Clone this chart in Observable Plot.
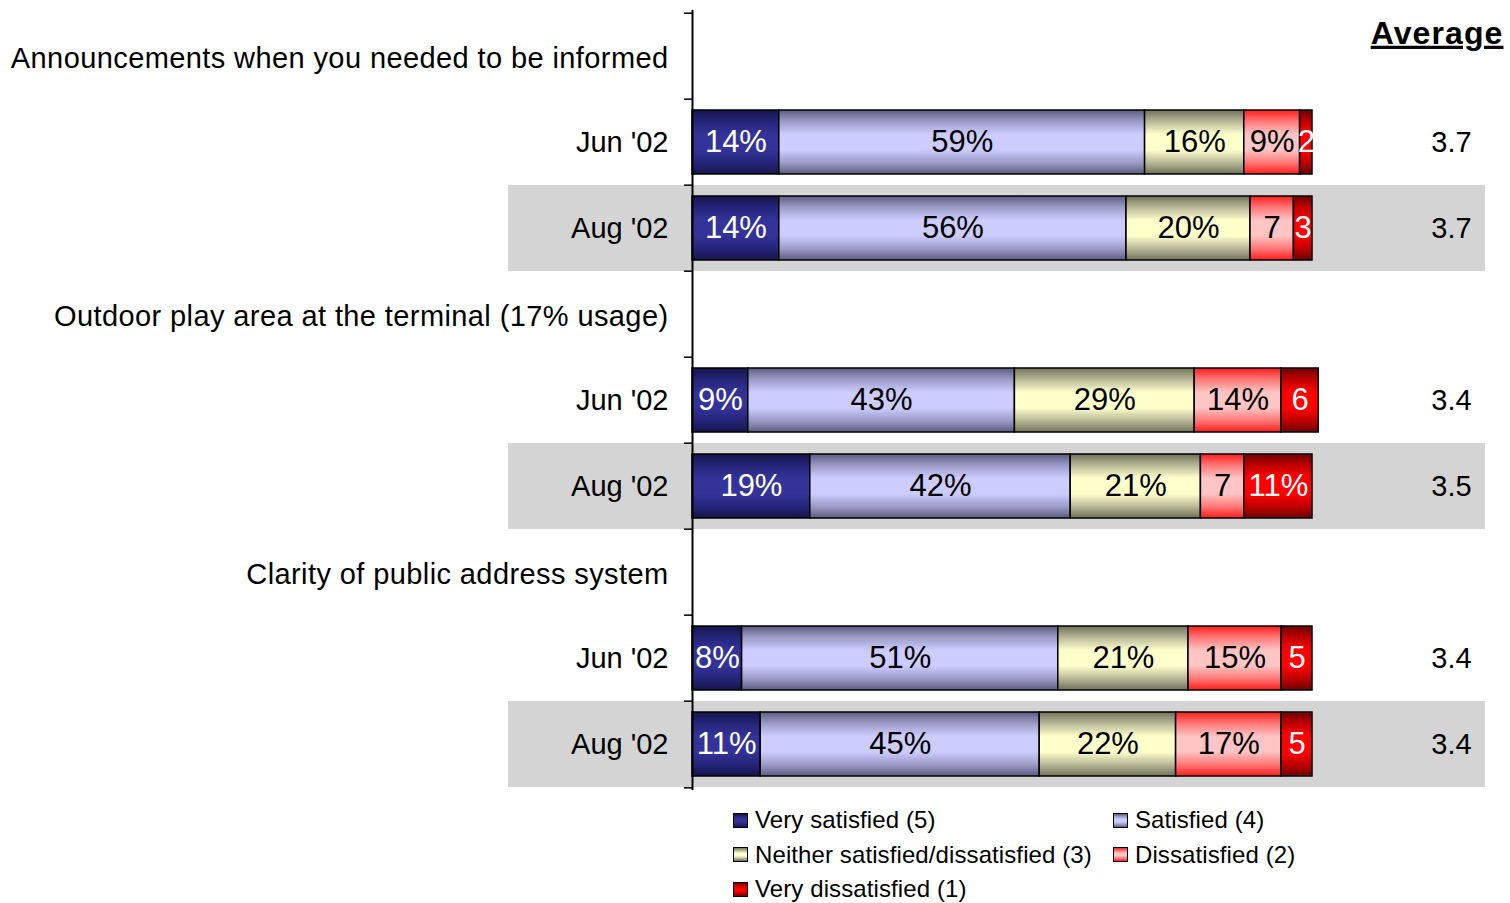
<!DOCTYPE html>
<html>
<head>
<meta charset="utf-8">
<script src="https://cdn.jsdelivr.net/npm/d3@7"></script>
<script src="https://cdn.jsdelivr.net/npm/@observablehq/plot@0.6"></script>
<style>
  html, body { margin: 0; padding: 0; background: #fff; }
  body { width: 1510px; height: 903px; overflow: hidden; font-family: Arial, "Liberation Sans", sans-serif; }
  #legend { position: relative; height: 103px; box-sizing: border-box; padding-top: 3px; padding-left: 733px;
    display: grid; grid-template-columns: 380px 330px; grid-auto-rows: 34.5px; font-size: 24px; letter-spacing: 0.1px; color: #000; }
  .item { display: flex; align-items: center; white-space: nowrap; }
  .sw { width: 13px; height: 13px; border: 1px solid #000; margin-right: 7px; flex: none; }
  .hdr-label text { letter-spacing: 0.4px; }
  .avg-title text { letter-spacing: 1.1px; text-decoration: underline; }
</style>
</head>
<body>
<div id="chart"></div>
<div id="legend"></div>
<script>
// ---- data ----
const groups = [
  "Announcements when you needed to be informed",
  "Outdoor play area at the terminal (17% usage)",
  "Clarity of public address system"
];
const periods = ["Jun '02", "Aug '02"];
const categories = [
  "Very satisfied (5)",
  "Satisfied (4)",
  "Neither satisfied/dissatisfied (3)",
  "Dissatisfied (2)",
  "Very dissatisfied (1)"
];
const announcementsJun = [14, 59, 16, 9, 2];
const announcementsAug = [14, 56, 20, 7, 3];
const outdoorJun = [9, 43, 29, 14, 6];
const outdoorAug = [19, 42, 21, 7, 11];
const clarityJun = [8, 51, 21, 15, 5];
const clarityAug = [11, 45, 22, 17, 5];
const values = [[announcementsJun, announcementsAug], [outdoorJun, outdoorAug], [clarityJun, clarityAug]];
// segment labels as printed
const labelsText = [
  [["14%", "59%", "16%", "9%", "2"], ["14%", "56%", "20%", "7", "3"]],
  [["9%", "43%", "29%", "14%", "6"], ["19%", "42%", "21%", "7", "11%"]],
  [["8%", "51%", "21%", "15%", "5"], ["11%", "45%", "22%", "17%", "5"]]
];
const averages = [["3.7", "3.7"], ["3.4", "3.5"], ["3.4", "3.4"]];
const averageTitle = "Average";

// gradient colours per category: [edge, mid, centre]
const gradColors = [
  ["#15154a", "#25257a", "#333399"],
  ["#5c5c80", "#9c9cc8", "#ccccff"],
  ["#707058", "#b8b898", "#ffffcc"],
  ["#ff1c1c", "#ff7878", "#ffc4c4"],
  ["#6e0000", "#c00000", "#ff0000"]
];
const gradId = i => `grad${i}`;

// ---- tables ----
const rows = [];
const segs = [];
groups.forEach((g, gi) => {
  rows.push({key: `g${gi}`, label: g, header: true});
  periods.forEach((p, pi) => {
    const key = `g${gi}p${pi}`;
    rows.push({key, label: p, header: false, aug: pi === 1, avg: averages[gi][pi]});
    values[gi][pi].forEach((v, ci) => {
      segs.push({key, ci, cat: categories[ci], value: v, label: labelsText[gi][pi][ci]});
    });
  });
});
const headerRows = rows.filter(r => r.header);
const barRows = rows.filter(r => !r.header);
const augRows = rows.filter(r => r.aug);
const lastRow = rows[rows.length - 1];

const W = 1510, H = 800;
const mTop = 10, mBottom = 10, mLeft = 692, mRight = 198;
const step = (H - mTop - mBottom) / rows.length;
const font = 'Arial, "Liberation Sans", sans-serif';

const plot = Plot.plot({
  width: W,
  height: H,
  marginTop: mTop,
  marginBottom: mBottom,
  marginLeft: mLeft,
  marginRight: mRight,
  style: {fontFamily: font, background: "white", overflow: "visible"},
  x: {domain: [0, 100], axis: null},
  y: {domain: rows.map(r => r.key), padding: 0, axis: null},
  color: {type: "identity"},
  marks: [
    // grey background bands behind Aug rows
    Plot.barX(augRows, {y: "key", x1: 0, x2: 100, fill: "#d4d4d4", insetLeft: -184, insetRight: -173}),
    // stacked bars
    Plot.barX(segs, Plot.stackX({
      x: "value", y: "key", order: null,
      fill: d => `url(#${gradId(d.ci)})`,
      stroke: "black", strokeWidth: 1.5,
      insetTop: 11, insetBottom: 11
    })),
    Plot.text(segs, Plot.stackX({
      x: "value", y: "key", order: null, text: "label",
      fill: d => (d.ci === 0 || d.ci === 4) ? "white" : "black",
      fontSize: 31, textAnchor: "middle", dy: 0
    })),
    // axis line and boundary ticks
    Plot.ruleX([0], {stroke: "black", strokeWidth: 2}),
    Plot.tickY(rows, {y: "key", dy: -step / 2, stroke: "black", strokeWidth: 1.5, insetLeft: -8, insetRight: 620}),
    Plot.tickY([lastRow], {y: "key", dy: step / 2, stroke: "black", strokeWidth: 1.5, insetLeft: -8, insetRight: 620}),
    // row labels
    Plot.text(headerRows, {
      y: "key", text: "label", frameAnchor: "left", textAnchor: "end", lineAnchor: "middle",
      dx: -24, dy: 2, fontSize: 29, fill: "black", className: "hdr-label"
    }),
    Plot.text(barRows, {
      y: "key", text: "label", frameAnchor: "left", textAnchor: "end", lineAnchor: "middle",
      dx: -24, dy: 0, fontSize: 29, fill: "black"
    }),
    // averages
    Plot.text(barRows, {y: "key", text: "avg", frameAnchor: "right", dx: 139, textAnchor: "middle", lineAnchor: "middle", fontSize: 29, fill: "black"}),
    Plot.text([averageTitle], {frameAnchor: "top-right", dx: 191, dy: 23, textAnchor: "end", lineAnchor: "middle", fontSize: 32, fontWeight: "bold", fill: "black", className: "avg-title"})
  ]
});

// gradient definitions
const svgNS = "http://www.w3.org/2000/svg";
const defs = document.createElementNS(svgNS, "defs");
gradColors.forEach((c, i) => {
  const lg = document.createElementNS(svgNS, "linearGradient");
  lg.setAttribute("id", gradId(i));
  lg.setAttribute("x1", "0"); lg.setAttribute("y1", "0");
  lg.setAttribute("x2", "0"); lg.setAttribute("y2", "1");
  [[0, c[0]], [0.18, c[1]], [0.38, c[2]], [0.62, c[2]], [0.82, c[1]], [1, c[0]]].forEach(([o, col]) => {
    const s = document.createElementNS(svgNS, "stop");
    s.setAttribute("offset", o);
    s.setAttribute("stop-color", col);
    lg.appendChild(s);
  });
  defs.appendChild(lg);
});
plot.insertBefore(defs, plot.firstChild);
d3.select(plot).selectAll(".hdr-label text").style("letter-spacing", "0.4px");
d3.select(plot).selectAll(".avg-title text").style("letter-spacing", "1.1px").style("text-decoration", "underline");

document.getElementById("chart").appendChild(plot);

// legend
const legend = d3.select("#legend");
categories.forEach((c, i) => {
  const it = legend.append("div").attr("class", "item");
  const g = gradColors[i];
  it.append("div").attr("class", "sw")
    .style("background", `linear-gradient(to bottom, ${g[0]} 0%, ${g[1]} 20%, ${g[2]} 40%, ${g[2]} 60%, ${g[1]} 80%, ${g[0]} 100%)`);
  it.append("span").text(c);
});
</script>
</body>
</html>
